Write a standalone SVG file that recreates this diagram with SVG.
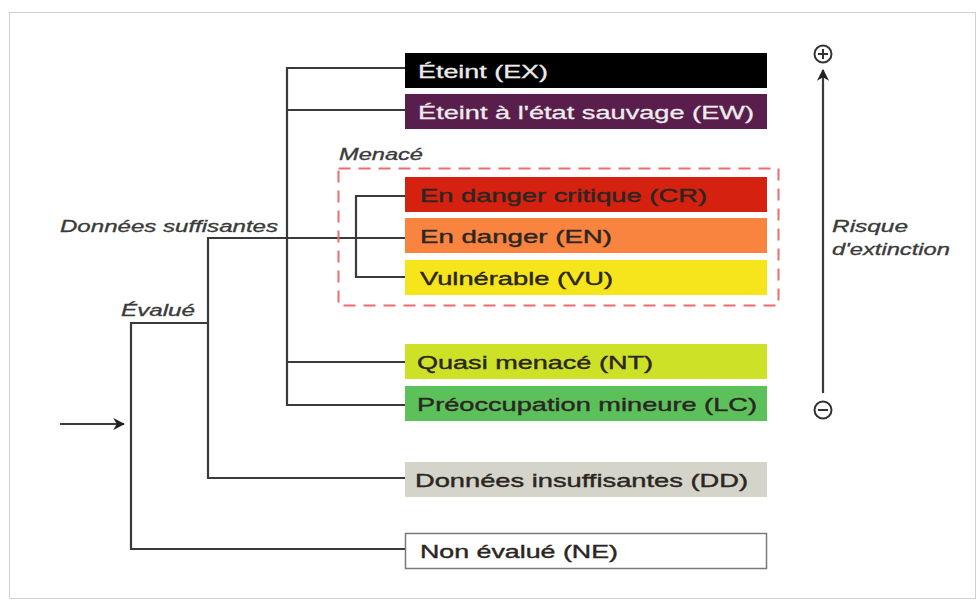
<svg xmlns="http://www.w3.org/2000/svg" width="978" height="601" viewBox="0 0 978 601">
<style>
.box{stroke:none}
.t{font-family:"Liberation Sans",Arial,sans-serif;font-size:19px;fill:#2b2622;stroke:#2b2622;stroke-width:0.4}
.tw{font-family:"Liberation Sans",Arial,sans-serif;font-size:19px;fill:#ececec;stroke:#ececec;stroke-width:0.3}
.lab{font-family:"Liberation Sans",Arial,sans-serif;font-size:16px;font-style:italic;fill:#3a3a3a;stroke:#3a3a3a;stroke-width:0.3}
.ln{fill:none;stroke:#3a3a3a;stroke-width:2.2}
</style>
<defs>
<marker id="ah2" viewBox="0 0 10 10" refX="9" refY="5" markerWidth="12" markerHeight="12" markerUnits="userSpaceOnUse" orient="auto">
<path d="M0,0 L10,5 L0,10 L3,5 Z" fill="#222"/>
</marker>
</defs>
<rect x="0" y="0" width="978" height="601" fill="#ffffff"/>
<rect x="9.5" y="12.5" width="966" height="586" fill="none" stroke="#d0d0d0" stroke-width="1"/>

<g id="connectors">
<polyline class="ln" points="405,68 287,68 287,405 405,405"/>
<line class="ln" x1="287" y1="110" x2="405" y2="110"/>
<line class="ln" x1="287" y1="362" x2="405" y2="362"/>
<polyline class="ln" points="405,478 208,478 208,238 405,238"/>
<polyline class="ln" points="405,196 356,196 356,277 405,277"/>
<polyline class="ln" points="208,323 131,323 131,549 405,549"/>
<line class="ln" x1="60" y1="424" x2="124" y2="424" marker-end="url(#ah2)"/>
<line class="ln" x1="823" y1="393" x2="823" y2="70" marker-end="url(#ah2)"/>
</g>

<g id="menace">
<rect x="338.5" y="168.5" width="440" height="137" fill="none" stroke="#ee6c6c" stroke-width="2" stroke-dasharray="12,8"/>
<text class="lab" x="339" y="160" textLength="84" lengthAdjust="spacingAndGlyphs">Menacé</text>
</g>

<g id="EX">
<rect class="box" x="405" y="53" width="362" height="35" fill="#000000"/>
<text class="tw" x="418" y="78" textLength="130" lengthAdjust="spacingAndGlyphs">Éteint (EX)</text>
</g>
<g id="EW">
<rect class="box" x="405" y="94" width="362" height="35" fill="#5a1e4c"/>
<text class="tw" x="418" y="119" textLength="336" lengthAdjust="spacingAndGlyphs">Éteint à l'état sauvage (EW)</text>
</g>
<g id="CR">
<rect class="box" x="405" y="177" width="362" height="35" fill="#d5210f"/>
<text class="t" x="420" y="202" textLength="287" lengthAdjust="spacingAndGlyphs">En danger critique (CR)</text>
</g>
<g id="EN">
<rect class="box" x="405" y="218" width="362" height="35" fill="#f98440"/>
<text class="t" x="420" y="243" textLength="192" lengthAdjust="spacingAndGlyphs">En danger (EN)</text>
</g>
<g id="VU">
<rect class="box" x="405" y="260" width="362" height="35" fill="#f6e51b"/>
<text class="t" x="420" y="285" textLength="193" lengthAdjust="spacingAndGlyphs">Vulnérable (VU)</text>
</g>
<g id="NT">
<rect class="box" x="405" y="344" width="362" height="35" fill="#cde227"/>
<text class="t" x="417" y="369" textLength="236" lengthAdjust="spacingAndGlyphs">Quasi menacé (NT)</text>
</g>
<g id="LC">
<rect class="box" x="405" y="386" width="362" height="35" fill="#5cc15b"/>
<text class="t" x="417" y="411" textLength="340" lengthAdjust="spacingAndGlyphs">Préoccupation mineure (LC)</text>
</g>
<g id="DD">
<rect class="box" x="405" y="462" width="362" height="35" fill="#d4d4ca"/>
<text class="t" x="415" y="487" textLength="333" lengthAdjust="spacingAndGlyphs">Données insuffisantes (DD)</text>
</g>
<g id="NE">
<rect x="405.5" y="533.5" width="361" height="35" fill="#ffffff" stroke="#7a7a7a" stroke-width="1.5"/>
<text class="t" x="420" y="558" textLength="198" lengthAdjust="spacingAndGlyphs">Non évalué (NE)</text>
</g>

<g id="labels">
<text class="lab" x="60" y="232" textLength="218" lengthAdjust="spacingAndGlyphs">Données suffisantes</text>
<text class="lab" x="121" y="316" textLength="74" lengthAdjust="spacingAndGlyphs">Évalué</text>
</g>

<g id="risk">
<circle cx="823" cy="54" r="8.5" fill="none" stroke="#333" stroke-width="2"/>
<line x1="818" y1="54" x2="828" y2="54" stroke="#333" stroke-width="2"/>
<line x1="823" y1="49" x2="823" y2="59" stroke="#333" stroke-width="2"/>
<circle cx="823" cy="410" r="8.5" fill="none" stroke="#333" stroke-width="2"/>
<line x1="818" y1="410" x2="828" y2="410" stroke="#333" stroke-width="2"/>
<text class="lab" x="832" y="232" textLength="76" lengthAdjust="spacingAndGlyphs">Risque</text>
<text class="lab" x="832" y="255" textLength="118" lengthAdjust="spacingAndGlyphs">d'extinction</text>
</g>
</svg>
